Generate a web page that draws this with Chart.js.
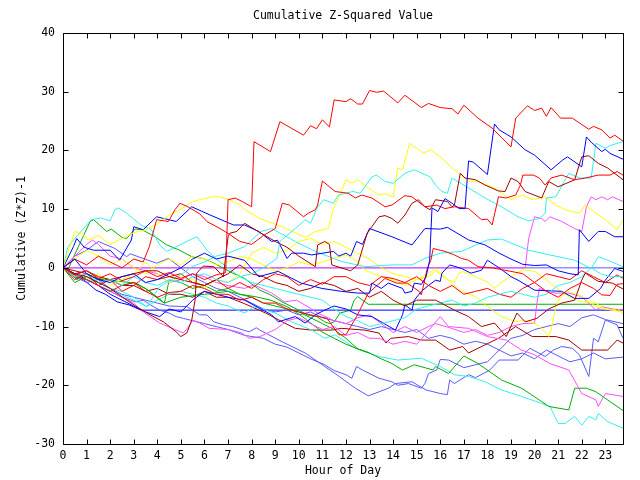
<!DOCTYPE html>
<html>
<head>
<meta charset="UTF-8">
<title>Cumulative Z-Squared Value</title>
<script src="https://cdn.jsdelivr.net/npm/chart.js@4.4.0/dist/chart.umd.min.js"></script>
<style>
    html, body { margin: 0; padding: 0; background: #fff; }
</style>
</head>
<body>
<canvas id="chart" width="640" height="480"></canvas>
<script>
// each series: [hour, cumulative value]
var red1 = [[0,0],[0.5,-1.2],[1,-0.5],[1.5,-1.8],[2,-1],[2.5,-2.2],[3,-1.5],[3.5,-0.5],[4,-1.5],[4.5,-0.8],[5,-1.8],[5.5,-1],[6,-2],[6.5,-1.2],[6.9,-0.8],[7.0,11.6],[7.3,11.9],[7.6,11.3],[8.0,10.4],[8.1,21.5],[8.8,19.8],[9.2,24.9],[10.2,22.6],[10.5,24.2],[10.75,23.7],[11.0,25.2],[11.3,24.0],[11.5,28.6],[12,28.3],[12.2,28.8],[12.5,27.9],[12.7,27.9],[13.0,30.2],[13.3,29.9],[13.6,30.1],[14.2,28.1],[14.5,29.4],[15.2,27.3],[15.5,28.0],[16,27.3],[16.5,27.1],[16.75,26.2],[17,27.7],[17.6,25.5],[18.2,23.8],[19,20.6],[19.2,25.5],[19.7,27.6],[20,26.8],[20.3,27.2],[20.5,25.8],[20.7,27.3],[21.1,25.5],[21.6,25.5],[22.3,23.6],[22.5,24.1],[22.85,23.5],[23.2,22.1],[23.4,22.6],[23.75,21.6]];
var red2 = [[0,0],[0.5,1.5],[1,0.5],[1.5,2],[2,1],[2.5,0],[3,1.5],[3.4,1],[3.66,3.6],[3.97,8.2],[4.47,7.9],[4.75,9.9],[4.96,11],[5.25,10.5],[5.8,9.2],[6.1,7.9],[6.66,6.7],[7.1,5.6],[7.5,4.5],[8,4],[8.5,5.5],[9.0,6.7],[9.3,11],[9.6,10.7],[10.2,8.7],[10.4,9.3],[10.7,9.9],[10.8,10.7],[11.0,14.8],[11.54,13],[12.1,12.7],[12.4,11.9],[12.67,12.4],[13.1,11.9],[13.66,10.4],[13.95,10.7],[14.5,12.3],[14.8,12.1],[15.35,10.4],[15.85,10.7],[16.2,10.1],[16.6,10.4],[17.2,10.1],[17.75,8.2],[18,8.3],[18.2,7.3],[18.47,12.1],[18.8,11.9],[19.2,12.4],[19.4,14.1],[19.5,15.8],[19.95,15.8],[20.2,15.3],[20.45,14.1],[20.7,15.3],[21.15,15.8],[21.7,15],[22.15,15.3],[22.7,15.8],[23.2,15.8],[23.5,16.4],[23.75,15.8]];
var red3 = [[0,0],[0.5,-2],[1,-1],[1.5,-3],[2,-2],[2.5,-4],[3,-3],[3.5,-1.5],[4,-2],[5,-1],[5.5,-2.5],[6,-3],[6.5,-2],[7,-3.5],[7.5,-2.5],[8,-3.5],[8.5,-2],[9,-1],[9.5,-1.5],[10,-3],[10.5,-2],[11,-2.8],[11.5,-1.5],[12,-1.5],[12.5,-2.5],[13,-3],[13.5,-1.5],[14,-1.8],[14.5,-2.5],[15,-1.5],[15.5,-3],[16,-4],[16.5,-3],[17,-4.5],[17.5,-4],[18,-3.5],[18.5,-4.5],[19,-5],[19.5,-3.5],[20,-2.5],[20.5,-1],[21,-1.5],[21.5,-2],[22,-0.5],[22.5,-1.5],[23,-2.5],[23.5,-1.2],[23.75,-1.8]];
var red4 = [[0,0],[0.5,-1.5],[1,-2],[1.5,-3],[2,-4],[2.5,-3],[3,-2.5],[3.5,-4],[4,-5],[4.5,-4.2],[5,-4],[5.5,-3],[6,-3.5],[6.5,-4.5],[7,-4.5],[7.5,-5.5],[8,-5],[8.5,-6],[9,-6],[9.5,-7],[10,-7.5],[10.5,-8],[11.2,-8.6],[11.7,-11.4],[12,-11.4],[12.45,-8.3],[12.95,-4.3],[13.66,-1.8],[14.15,-2.6],[14.6,-2.6],[15.1,-4.0],[15.2,-4.6],[15.45,-0.1],[15.6,1.3],[15.7,3.3],[16,3.0],[16.2,2.8],[16.6,2.2],[16.9,1.6],[17.2,1.3],[17.6,0.2],[18.2,0],[19,-0.6],[19.5,-1],[20,-2.5],[20.5,-4],[21,-5],[21.5,-3.5],[22,-2.5],[22.5,-3.5],[22.85,-4.6],[23.2,-4.7],[23.5,-2.8],[23.75,-2.7]];
var green1 = [[0,0],[0.2,-0.4],[0.65,3.6],[1.15,7.9],[1.3,8.2],[1.85,6.2],[2.05,6.6],[2.5,5.2],[2.7,5.0],[3.05,6.6],[3.35,6.5],[3.9,5.3],[4.4,3.9],[4.95,3.0],[5.46,1.9],[5.95,1.6],[6.4,0.8],[7.2,-0.9],[7.7,-1.8],[8.35,-3.8],[8.8,-4.6],[9.3,-5.8],[10,-7.2],[10.35,-8],[10.76,-8.3],[11.1,-9.2],[11.3,-9.5],[11.5,-9.2],[11.75,-7.7],[12.2,-7.2],[12.35,-5.5],[12.5,-4.9],[12.95,-6.2],[23.75,-6.2]];
var green2 = [[0,0],[0.6,-2],[1,-1],[1.5,-1.8],[2.35,-2.3],[3.1,-2.6],[3.6,-3.8],[4.1,-5.5],[4.3,-6],[5,-5],[6,-4.5],[7,-4],[7.5,-4.5],[8.15,-4.9],[8.8,-5.5],[9.5,-6.6],[10.05,-8],[10.7,-10],[10.98,-10.9],[11.5,-12],[12,-13],[12.5,-13.8],[13,-14.5],[13.5,-15.5],[13.95,-16.3],[14.4,-17.4],[14.9,-16.5],[15.7,-17.4],[15.8,-16.8],[16.35,-18],[17,-15],[17.6,-16.3],[18.6,-19.1],[19.45,-20.5],[20.2,-22.5],[20.6,-23.6],[21.45,-24.2],[21.7,-20.5],[22.2,-20.5],[22.6,-21.1],[23.1,-22.5],[23.75,-24.3]];
var green3 = [[0,0],[0.5,-2.5],[1,-1.5],[1.5,-2.5],[2,-2],[2.5,-3],[3,-2.5],[3.5,-3.5],[4,-5],[4.3,-6],[4.5,-2.1],[5,-2.5],[5.5,-3.5],[6,-3],[6.5,-4],[7,-3.5],[7.5,-4.5],[8,-5],[8.5,-6],[9,-6.5],[9.5,-7],[10,-7.5],[10.5,-8.5],[11,-9.5],[11.5,-10.5],[12,-12],[12.5,-13.8],[13,-14.5]];
var blue1 = [[0,0],[0.5,1.5],[1,-1],[1.5,-2],[2,-2.5],[2.5,-1.5],[3,-1],[3.5,-2.5],[4,-2],[4.5,-1],[5,0],[5.5,1.5],[6,2.5],[6.5,1.5],[7,2],[7.7,1.3],[8.3,-1.5],[9.13,-0.6],[10.1,-2.6],[10.98,-3.5],[11.8,-4],[12.5,-4.3],[13,-4.3],[13.1,-2.6],[13.5,-3.5],[13.8,-2.6],[14.4,-3.5],[14.5,-4.3],[14.8,-4.0],[14.9,-2.6],[15.2,-2.8],[15.4,-1.5],[15.55,1.3],[15.65,10.2],[15.9,9.6],[16.2,11.8],[16.5,11],[16.8,10.1],[17.05,10.1],[17.2,18.2],[17.4,18],[18,15.9],[18.3,24.5],[18.5,23.5],[19,22.3],[19.6,20.1],[20,19.2],[20.7,16.7],[21.2,18.4],[21.4,18.9],[22,17.2],[22.2,22.3],[22.4,21.4],[22.85,19.8],[23,20.2],[23.2,19.5],[23.75,18.5]];
var blue2 = [[0,0],[0.44,3.6],[0.58,5.0],[0.9,3.5],[1.3,3.0],[2.0,3.0],[2.4,1.3],[2.9,4.75],[3.0,7.0],[3.4,6.5],[3.97,8.7],[4.8,7.9],[5.46,10.4],[6.24,9.0],[7.23,7.3],[7.7,7.3],[8.3,6.2],[8.85,4.5],[9.1,4.7],[9.5,1.6],[9.7,2.5],[10.2,2.5],[10.55,2.2],[11.47,2.8],[11.7,2.0],[12,2.5],[12.2,2.0],[12.45,4.5],[12.7,4.0],[13,6.7],[13.95,5.3],[14.8,3.9],[15.35,6.7],[16,6.6],[16.3,6.9],[17.2,4.75],[17.9,3.9],[18.5,2.5],[19,1.5],[19.5,0.6],[20,0.4],[20.5,0.5],[21,-0.5],[21.5,-1],[21.85,-1.2],[21.9,6.5],[22.3,4.5],[22.7,6.2],[23,6.2],[23.4,5.3],[23.75,5.3]];
var blue3 = [[0,0],[0.9,-2.1],[1.4,-3.8],[1.8,-4.5],[2.3,-5.8],[2.8,-6.3],[3.3,-7.2],[23.75,-7.2]];
var blue4 = [[0,0],[0.5,-1],[1,-2],[1.5,-3],[2,-4.5],[2.5,-5.5],[3,-6.5],[3.5,-7.5],[4.1,-8.3],[4.5,-7],[5,-7.5],[5.5,-5.5],[6,-4],[6.5,-4.5],[7,-5],[7.7,-5.5],[8.85,-8],[9.13,-9.2],[9.85,-8.3],[10.27,-9.4],[10.7,-8],[11.1,-7.2],[11.5,-6.5],[12,-7],[12.5,-8],[13.1,-8.3],[14.1,-10.6],[14.4,-8.0],[14.5,-6.3],[14.8,-7.2],[14.9,-5.5],[15.2,-4],[15.5,-3],[15.8,-2.1],[16,-2.3],[16.07,-0.9],[16.4,0.5],[16.9,-0.1],[17.3,-0.9],[17.75,-0.4],[18.0,1.3],[18.5,0],[19,-1.5],[19.3,-2.1],[20,-3.8],[21.15,-4],[21.7,-5.2],[22.3,-5.2],[22.8,-3.5],[23,-2.1],[23.4,-0.1],[23.75,-0.6]];
var magenta1 = [[0,0],[19.6,0],[19.75,5.0],[20.0,8.7],[20.3,8.4],[20.45,7.9],[20.65,8.7],[21.15,7.9],[21.7,6.7],[22.0,6.2],[22.2,10.4],[22.4,12.1],[22.6,11.6],[22.85,12.1],[23.1,11.6],[23.3,12.1],[23.75,11.3]];
var magenta2 = [[0,0],[0.5,2],[1,4],[1.25,4.75],[1.5,4],[2,2],[2.5,1.5],[3,0],[3.5,-0.5],[4,-1],[4.5,-2.5],[5,-2],[5.5,-1],[6,-1.5],[6.5,-2.5],[7,-3],[7.7,-3.5],[8.1,-2.9],[8.85,-4.3],[9.4,-5.8],[9.9,-5.5],[10.5,-6.9],[10.8,-7.7],[11.5,-9],[12,-9.5],[12.5,-8.5],[13,-8],[13.5,-9.5],[14,-11],[14.5,-10],[15,-11],[15.5,-10],[15.8,-9.5],[16.4,-10.2],[17,-11],[17.5,-10.5],[18,-11.5],[18.5,-11],[19,-10],[19.5,-9.5],[20,-9.4],[20.1,-6],[20.2,-3.5],[20.5,-4.0],[20.9,-4.3],[21.45,-4.3],[22,-4.9],[22.6,-7.2],[22.85,-6.6],[23.3,-7.0],[23.75,-7.2]];
var magenta3 = [[0,0],[0.5,-1],[1,-2],[1.5,-3],[2,-4],[2.5,-5],[3,-6],[3.3,-7.2],[4.1,-9.4],[5.1,-11.1],[5.3,-10.2],[5.5,-8.9],[5.8,-9.4],[6.2,-10.3],[7,-10.5],[7.6,-11.1],[7.9,-12],[8.35,-11.7],[9,-10.5],[9.5,-9],[10,-8.5],[10.5,-9.5],[11,-10.5],[11.5,-10],[12,-11.5],[12.5,-11],[13,-12],[13.4,-12],[14,-13],[14.5,-12.5],[15,-13],[15.35,-11.4],[16,-8.3],[16.35,-10],[17.2,-10.3],[18,-11.7],[18.8,-12.3],[19.45,-14],[20,-14.8],[20.65,-16.3],[21.45,-17.4],[22,-21.4],[22.6,-22.5],[22.7,-23.6],[23,-21.4],[23.75,-21.9]];
var cyan1 = [[0,0],[0.2,3.5],[0.5,5],[1.2,8.2],[1.6,8.5],[2.0,8.0],[2.2,9.9],[2.35,10.2],[2.7,9.3],[3.3,7.3],[3.75,6.5],[4.1,3.9],[4.4,2.8],[5,4],[5.67,5.3],[5.95,3.9],[6.1,3.0],[6.5,1.5],[7,0],[7.5,-1.5],[8,-2.5],[9,-3.5],[10,-4.5],[11,-5.5],[11.5,-7],[12,-8.3],[12.5,-9],[13,-10],[13.5,-9.5],[14,-9],[14.5,-8.5],[15,-7],[15.5,-6.5],[16,-6],[16.5,-5.5],[17,-6.5],[17.5,-6],[18,-5],[18.5,-4.5],[19,-4],[19.5,-4.5],[20,-5],[20.5,-4.5],[21,-3],[21.5,-2.5],[22,-1.5],[22.4,0],[22.8,-1],[23.2,-1.5],[23.75,-1.5]];
var cyan2 = [[0,0],[0.5,-1.5],[1,-1],[1.5,-2.5],[2,-2],[2.5,-3],[3,-1.5],[3.5,-2.5],[4,-3],[4.5,-2],[5,-2.5],[5.5,-1.5],[6,-1],[6.5,-2],[7,-2.5],[7.5,-1.5],[8,-1],[8.5,0],[9.07,1.6],[9.2,4.5],[9.85,6.7],[10.27,8.2],[10.5,7.6],[10.76,10.1],[11.05,11.6],[11.47,11.0],[11.68,12.4],[12.3,13.0],[12.6,12.7],[13.1,15.5],[13.3,15.8],[13.66,14.7],[14.0,14.4],[14.5,16.1],[14.9,16.7],[15.57,15.5],[15.8,14.1],[16.07,13.0],[16.3,12.7],[16.5,15.3],[17.2,13.6],[17.9,11.9],[18.6,10.4],[19.3,8.7],[19.75,8.0],[20.2,8.4],[20.45,9.3],[20.5,11.9],[20.9,12.1],[21.45,16.1],[21.9,15.3],[22.4,15.3],[22.6,21.2],[23.0,20.4],[23.25,20.9],[23.75,21.5]];
var cyan3 = [[0,0],[0.5,-1],[1,-2],[1.5,-2.5],[2,-3.5],[2.5,-4],[3,-5],[3.55,-6.6],[4,-5.5],[4.5,-4.5],[5,-4],[5.5,-4.5],[6,-5],[6.5,-6],[7,-6.5],[7.7,-7.7],[8.1,-6.6],[9.0,-7.7],[9.7,-9.2],[10.55,-10.6],[11.1,-12],[11.54,-11.4],[12.4,-13.7],[13.4,-15.1],[14.2,-15.7],[15.2,-15.4],[16,-16.8],[16.6,-18.2],[17.2,-18.5],[17.9,-19.4],[18.6,-20.8],[19.45,-21.9],[20.3,-23.1],[20.65,-23.6],[21,-26.5],[21.3,-26.5],[21.7,-25.3],[22,-26.8],[22.3,-25.3],[22.6,-25.9],[22.7,-24.8],[23.1,-26.2],[23.75,-27.3]];
var cyan4 = [[0,0],[0.5,-1.5],[1,-2],[1.5,-3],[2.3,-4.3],[3,-5.5],[3.55,-6.6],[4.1,-3.2],[4.6,-2],[5.1,-0.9],[5.46,0.2],[6,1],[6.5,2],[7,2.5],[7.7,3.6],[8.4,6.2],[8.85,6.7],[9.85,4.5],[10.7,2.8],[11.8,1.1],[12.8,0.2],[13.95,0.5],[14.8,0.5],[15.35,1.6],[16,2.5],[16.9,2.8],[18,4.75],[18.6,4.9],[19.75,3.0],[20.65,2.2],[21.7,1.3],[22.4,-0.1],[22.7,1.9],[23.1,1.3],[23.75,0.2]];
var darkred1 = [[0,0],[0.5,-1],[1,-1.5],[1.5,-2.5],[2,-3.5],[2.7,-5.5],[3.2,-6.8],[3.7,-8],[4.26,-9.2],[4.8,-10.9],[5.0,-11.7],[5.25,-11.1],[5.46,-8.9],[5.6,-5.5],[5.67,-0.9],[5.95,0.3],[6.4,0.2],[6.8,-1.5],[7.0,5.3],[7.08,5.9],[7.37,6.2],[7.7,7.6],[8.35,6.0],[9,4.5],[9.5,3.5],[10,2],[10.7,0.2],[10.8,3.9],[11.1,4.5],[11.3,4.0],[11.4,0.5],[11.8,0],[12.2,-0.5],[12.5,0.5],[12.75,3.9],[12.9,5.9],[13.4,8.7],[13.66,8.9],[13.95,8.4],[14.2,7.6],[14.5,9.0],[14.8,11.0],[15.07,11.6],[15.35,10.4],[15.57,9.9],[15.8,11.6],[16.3,11.3],[16.5,10.4],[16.6,10.7],[16.85,16.1],[17.05,15.3],[17.5,15.0],[17.9,14.1],[18.47,13.1],[18.75,13.0],[19.0,15.3],[19.3,14.7],[19.6,13.0],[20.3,11.9],[20.6,14.7],[21.0,13.8],[21.7,15.0],[22.0,18.9],[22.3,19.1],[22.7,17.8],[23.1,17.0],[23.75,15.0]];
var darkred2 = [[0,0],[0.5,-1],[1,-0.5],[1.5,-1.5],[2,-2],[2.5,-1.5],[3,-1],[3.5,-0.5],[4,-0.5],[4.5,-1.5],[5,-2],[5.5,-2.5],[6,-3],[6.5,-2],[7,-1],[7.5,0.5],[8,-1],[8.5,-1.5],[9,-2.5],[9.5,-3],[10,-4],[10.5,-3.5],[11,-2.5],[11.5,-3],[12,-4],[12.5,-3.5],[13,-5],[13.5,-4],[14,-5.5],[14.5,-6.5],[15,-5.5],[15.8,-5.5],[16.6,-7.2],[17.2,-8.3],[17.75,-10],[18.3,-9.4],[18.8,-11.7],[19.25,-7.7],[19.6,-9.2],[20.1,-8.6],[20.6,-7],[21.15,-6],[21.7,-5.5],[22,-2.1],[22.15,-0.9],[22.7,-2.3],[23.3,-2.6],[23.75,-3.6]];
var darkred3 = [[0,0],[0.5,-0.5],[1,-1],[1.5,-2],[2,-2],[2.5,-3],[3,-3],[3.5,-4],[4,-3.5],[4.5,-4.5],[5,-4.5],[5.5,-5],[6,-4],[6.5,-5],[7,-5],[7.7,-6.1],[8.6,-7.7],[9.4,-9.4],[9.85,-10.3],[10.55,-10.6],[11.4,-10.6],[11.8,-10.3],[12.8,-10.6],[13.4,-11.1],[13.7,-12.8],[13.9,-12],[14.65,-11.7],[15.2,-12.3],[15.8,-12.3],[16.4,-14],[16.95,-13.4],[17.2,-14.5],[17.6,-13.7],[18.47,-12],[19.2,-10],[19.9,-11.7],[20.9,-11.7],[21.45,-12.3],[22,-14],[23.1,-14],[23.5,-12.3],[23.75,-12.8]];
var yellow1 = [[0,0],[0.5,6.2],[0.8,5.9],[1.07,4.75],[1.5,5.5],[2,4],[2.5,5],[3,6],[3.5,6.5],[4,7.5],[4.5,9],[5,10],[5.5,11.3],[6,11.8],[6.5,12.2],[7,11.7],[7.5,10.7],[7.7,9.9],[8.35,8.4],[9.1,7.3],[9.9,5.9],[10.3,5.2],[10.7,6.2],[11.25,6.7],[11.47,10.1],[11.8,13],[12,15],[12.25,14.4],[12.5,15],[12.95,13.6],[13.4,12.4],[13.66,12.6],[14,12.1],[14.2,17],[14.4,16.7],[14.7,21.2],[15,20.4],[15.3,19.5],[15.57,20.1],[16,18.9],[16.6,16.7],[17.2,14.7],[17.6,14.7],[18.3,13.6],[19,11.6],[19.5,12.4],[19.9,11.6],[20.45,12.1],[20.9,10.7],[21.3,9.9],[21.9,9.3],[22.15,10.7],[22.6,9.3],[23.1,7.9],[23.5,6.5],[23.75,8.2]];
var yellow2 = [[0,0],[0.5,-1],[1,-2],[1.5,-1],[2,-3],[2.5,-2],[3,-1],[3.5,1],[4,-1],[4.5,-2.5],[5,-1.5],[5.5,-2],[6,-3.5],[6.5,-2],[7,-2.5],[7.5,-1],[8,2.5],[8.5,3.5],[9,2.5],[9.5,3],[10,4.5],[10.5,5],[11,4],[11.5,4.5],[12,3.5],[12.5,2.5],[13,1.5],[13.5,0],[14,-1],[14.5,-1.5],[15,-2],[15.5,-1],[15.8,-0.1],[16.35,-2.1],[16.8,-3.8],[17.5,-4.9],[18,-6.6],[18.6,-8.3],[19.2,-9.2],[19.5,-8.9],[20,-9.4],[20.3,-10.3],[20.6,-11.7],[20.7,-10.6],[20.9,-6.6],[21.15,-4.6],[21.45,-4.0],[22,-4.9],[22.6,-6.6],[22.85,-6.9],[23.3,-7.2],[23.5,-6.9],[23.75,-7.9]];
var yellow3 = [[0,0],[0.5,1.5],[1,3],[1.5,2],[2,0.5],[2.5,1.5],[3,0],[3.5,-1],[4,0.5],[4.5,1.5],[5,0.5],[5.5,2],[6,1.5],[6.5,0.5],[7,1],[7.5,2],[8,1.5],[8.5,0.5],[9,-0.5],[9.5,0],[10,1],[10.5,0.5],[11,1],[11.47,1.6],[12,2.2],[12.5,1.1],[12.8,-0.4],[13.5,-1.5],[14,-2],[14.5,-3],[15,-2],[15.5,-1.5],[15.8,-0.5],[16.35,-2.1],[16.6,-2.4],[16.8,-0.9],[16.95,-0.6],[17.5,-1.5],[18,-2.4],[18.3,-3.5],[18.6,-2.4],[19,-1.5],[19.5,-0.3],[20,-0.6],[20.5,-2],[21,-3.7],[21.5,-5],[22,-5.8],[22.5,-5.8],[23,-7],[23.75,-7.5]];
var slate0 = [[0,0],[23.75,0]];
var slate1 = [[0,0],[0.5,-1.5],[1,-2.5],[1.5,-2],[2,-3.5],[2.5,-4.5],[3,-5],[3.5,-5.5],[4,-6],[4.5,-6.5],[5.25,-6.6],[5.5,-7.2],[5.8,-8],[6.1,-8],[6.4,-9.2],[6.8,-9.7],[7.2,-10],[7.65,-10.6],[7.9,-10.9],[8.2,-10.2],[8.35,-10.6],[9.3,-12.6],[10.27,-14.5],[11.1,-16.8],[11.54,-18],[12.4,-20.5],[12.95,-21.8],[13.8,-20.5],[14.1,-19.7],[14.8,-19.4],[15.4,-20.8],[16,-21.4],[16.3,-21.6],[16.4,-19.1],[16.6,-19.7],[17.2,-18.2],[17.5,-18.7],[18.1,-17.4],[18.5,-15.7],[19.3,-15.7],[19.8,-13.7],[20.45,-15.1],[20.8,-14],[21.15,-13.4],[21.6,-13.7],[21.9,-14.8],[22.3,-18.5],[22.5,-12],[22.7,-12.6],[23,-8.9],[23.5,-9.7],[23.75,-12]];
var slate2 = [[0,0],[0.5,-1],[1,-2],[1.5,-3],[2,-4],[2.5,-5],[3.1,-5.8],[3.4,-5.5],[3.7,-6.3],[4.1,-7.2],[4.5,-7.7],[4.8,-8.3],[5.1,-8.6],[5.5,-9],[6,-9.5],[6.5,-10],[7,-10.5],[7.7,-11.5],[8.5,-12],[9,-13],[9.5,-13.5],[10,-14.5],[10.5,-15.5],[11.1,-16.5],[11.5,-17.5],[12,-18.2],[12.25,-18.8],[12.45,-16.8],[12.7,-17.4],[13.4,-18.8],[13.95,-19.4],[14.2,-20],[14.65,-19.7],[15.2,-20.5],[15.35,-19.7],[15.5,-18],[15.85,-17.4],[16,-15.6],[16.35,-15.7],[17,-17],[17.5,-16.5],[18,-16],[18.5,-14],[19,-15],[19.5,-14.5],[20,-15.5],[20.5,-14],[21,-15],[21.5,-16],[22,-15.5],[22.5,-14.5],[23,-15.5],[23.75,-15.2]];
var slate3 = [[0,0],[0.5,2],[1,3],[1.5,4.5],[2.2,3.3],[2.7,1.9],[2.85,2.4],[3.4,1.6],[3.97,0.8],[4.47,1.6],[5,0],[5.5,-1.5],[6,-2.5],[6.5,-3.5],[7,-4],[7.5,-5],[8,-6],[8.5,-7],[9,-7.5],[9.5,-7.2],[10,-8],[10.5,-7.5],[11,-8.5],[11.5,-9],[12,-9.5],[12.5,-10],[13,-10.5],[13.5,-10],[14,-10.5],[14.5,-11],[15,-10.5],[15.5,-12],[16,-11.5],[16.5,-12],[17,-13],[17.5,-12.5],[18,-13],[18.5,-14],[19,-12],[19.5,-11.5],[20,-10.5],[20.5,-10],[21,-9.5],[21.5,-10],[22,-8.5],[22.5,-8],[23,-8.8],[23.75,-9.5]];

var RED = '#ff0000', GREEN = '#00b000', BLUE = '#0000ff', MAGENTA = '#ff4cff',
    CYAN = '#33eeee', DARKRED = '#a00000', YELLOW = '#ffff00', SLATE = '#5a5aff';

// bottom to top
var series = [
    [slate0, SLATE], [magenta1, MAGENTA], [blue3, BLUE], [green1, GREEN],
    [slate3, SLATE], [slate2, SLATE], [slate1, SLATE], [darkred3, DARKRED],
    [cyan3, CYAN], [green2, GREEN], [green3, GREEN], [magenta3, MAGENTA],
    [magenta2, MAGENTA], [yellow3, YELLOW], [yellow2, YELLOW], [blue4, BLUE],
    [red3, RED], [cyan1, CYAN], [cyan4, CYAN], [darkred2, DARKRED],
    [red4, RED], [blue2, BLUE], [yellow1, YELLOW], [cyan2, CYAN],
    [darkred1, DARKRED], [red2, RED], [blue1, BLUE], [red1, RED]
];

var FONT = {family: "'DejaVu Sans Mono', monospace", size: 11.5};
var TITLE = 'Cumulative Z-Squared Value';

// border box with inward ticks, plus the title
var frame = {
    id: 'frame',
    afterDraw: function (chart) {
        var ctx = chart.ctx, a = chart.chartArea;
        var xs = chart.scales.x, ys = chart.scales.y;
        var x0 = Math.round(a.left) + 0.5, x1 = Math.round(a.right) + 0.5;
        var y0 = Math.round(a.top) + 0.5, y1 = Math.round(a.bottom) + 0.5;
        ctx.save();
        ctx.strokeStyle = '#000';
        ctx.lineWidth = 1;
        ctx.beginPath();
        ctx.rect(x0, y0, x1 - x0, y1 - y0);
        xs.ticks.forEach(function (t) {
            var px = Math.round(xs.getPixelForValue(t.value)) + 0.5;
            ctx.moveTo(px, y1); ctx.lineTo(px, y1 - 5);
            ctx.moveTo(px, y0); ctx.lineTo(px, y0 + 5);
        });
        ys.ticks.forEach(function (t) {
            var py = Math.round(ys.getPixelForValue(t.value)) + 0.5;
            ctx.moveTo(x0, py); ctx.lineTo(x0 + 5, py);
            ctx.moveTo(x1, py); ctx.lineTo(x1 - 5, py);
        });
        ctx.stroke();
        ctx.fillStyle = '#000';
        ctx.font = FONT.size + 'px ' + FONT.family;
        ctx.textAlign = 'center';
        ctx.textBaseline = 'middle';
        ctx.fillText(TITLE, (a.left + a.right) / 2, 16);
        ctx.restore();
    }
};

var ctx = document.getElementById('chart').getContext('2d');
var theChart = new Chart(ctx, {
    type: 'line',
    data: {
        datasets: series.map(function (s, i) {
            return {
                data: s[0].map(function (p) { return {x: p[0], y: p[1]}; }),
                borderColor: s[1],
                borderWidth: 1,
                pointRadius: 0,
                fill: false,
                tension: 0,
                order: -i
            };
        })
    },
    options: {
        responsive: false,
        animation: false,
        events: [],
        layout: {padding: {top: 33, right: 17, bottom: 0, left: 0}},
        plugins: {legend: {display: false}, tooltip: {enabled: false}, title: {display: false}},
        scales: {
            x: {
                type: 'linear', min: 0, max: 23.75,
                grid: {display: false, drawTicks: false},
                border: {display: false},
                ticks: {stepSize: 1, includeBounds: false, autoSkip: false, maxRotation: 0,
                        color: '#000', font: FONT, padding: 5},
                title: {display: true, text: 'Hour of Day', color: '#000', font: FONT,
                        padding: {top: 0, bottom: 2}},
                afterFit: function (s) { s.height = 36; }
            },
            y: {
                type: 'linear', min: -30, max: 40,
                grid: {display: false, drawTicks: false},
                border: {display: false},
                ticks: {stepSize: 10, color: '#000', font: FONT, padding: 8},
                title: {display: true, text: 'Cumulative (Z*Z)-1', color: '#000', font: FONT,
                        padding: {top: 15, bottom: 0}},
                afterFit: function (s) { s.width = 63; }
            }
        }
    },
    plugins: [frame]
});
</script>
</body>
</html>
